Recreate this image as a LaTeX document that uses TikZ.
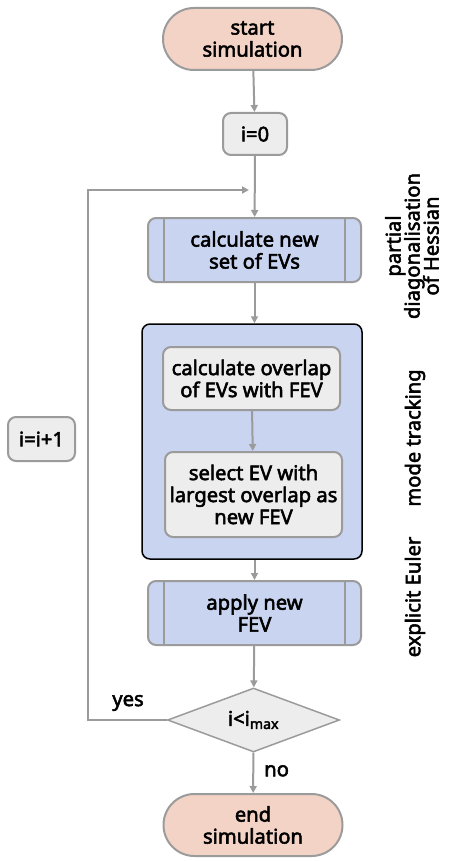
\documentclass[tikz,border=0pt]{standalone}
\usepackage{fontspec}
\setmainfont{Noto Sans}[AutoFakeBold=2.6]
\usetikzlibrary{shapes.geometric,arrows.meta,calc}
\definecolor{bord}{HTML}{9B9B9B}
\definecolor{pinkf}{HTML}{F2D3C6}
\definecolor{greyf}{HTML}{EDEDED}
\definecolor{bluef}{HTML}{C8D4F0}
\begin{document}
\begin{tikzpicture}[x=1pt,y=-1pt,
  every node/.style={font=\fontsize{20.2}{22}\selectfont\bfseries, align=center, inner sep=0pt},
  term/.style={draw=bord, line width=2pt, fill=pinkf, rounded corners=31pt, minimum width=179pt, minimum height=62pt},
  proc/.style={draw=bord, line width=2pt, fill=greyf, rounded corners=8pt},
  pred/.style={draw=bord, line width=2pt, fill=bluef, rounded corners=8pt, minimum width=213pt, minimum height=64pt},
  dec/.style={draw=bord, line width=1.5pt, fill=greyf, diamond, aspect=2.7, minimum width=172pt, minimum height=64pt},
  conn/.style={draw=bord, line width=2pt, -{Triangle[length=7pt,width=7pt]}},
  side/.style={rotate=90}
]
\useasboundingbox (0,0) rectangle (448,861);
\node[term] (start) at (252.5,39) {start\\simulation};
\node[proc, minimum width=64pt, minimum height=42pt] (i0) at (255,134) {i=0};
\node[pred] (calc) at (254.5,250) {calculate new\\set of EVs};
\draw[bord, line width=2pt] ($(calc.north west)+(17,0)$) -- ($(calc.south west)+(17,0)$);
\draw[bord, line width=2pt] ($(calc.north east)+(-17,0)$) -- ($(calc.south east)+(-17,0)$);
\node[draw=black, line width=1.5pt, fill=bluef, rounded corners=8pt, minimum width=220pt, minimum height=235pt] (mt) at (252,441.5) {};
\node[proc, minimum width=177pt, minimum height=63pt] (ov) at (251.5,378.5) {calculate overlap\\of EVs with FEV};
\node[proc, minimum width=177pt, minimum height=85pt] (sel) at (253.5,494.5) {select EV with\\largest overlap as\\new FEV};
\node[pred] (app) at (254.5,613) {apply new\\FEV};
\draw[bord, line width=2pt] ($(app.north west)+(17,0)$) -- ($(app.south west)+(17,0)$);
\draw[bord, line width=2pt] ($(app.north east)+(-17,0)$) -- ($(app.south east)+(-17,0)$);
\node[dec] (dc) at (253.5,720) {i<i\textsubscript{max}};
\node[term] (end) at (253,825) {end\\simulation};
\node[proc, minimum width=67pt, minimum height=44pt] (inc) at (41.5,439) {i=i+1};
\coordinate (join) at (255,190);
\coordinate (jl) at (88,190);
\coordinate (bl) at (88,720);
\draw[conn] (start) -- (i0);
\draw[conn] (i0) -- (calc);
\draw[conn] (calc) -- (calc|-mt.north);
\draw[conn] (ov) -- (sel);
\draw[conn] (mt.south-|app) -- (app);
\draw[conn] (app) -- (dc);
\draw[conn] (dc) -- node[right=10pt, pos=0.45] (no) {no} (end);
\draw[conn] (dc.west) -- (bl) -- (jl) -- ($(join)+(-6,0)$);
\node (yes) at (128,703) {yes};
\node[side] (l1) at (412,246) {partial\\[-3pt]diagonalisation\\[-3pt]of Hessian};
\node[side] (l2) at (415,438) {mode tracking};
\node[side] (l3) at (415,597) {explicit Euler};
\end{tikzpicture}
\end{document}
